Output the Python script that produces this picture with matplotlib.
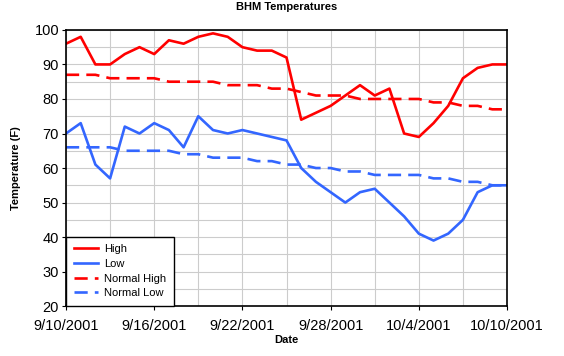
import numpy as np
import matplotlib.pyplot as plt
import matplotlib.dates as mdates
from matplotlib.ticker import MultipleLocator, FixedLocator
import datetime as dt

plt.rcParams['font.family'] = ['Liberation Sans', 'DejaVu Sans']

dates = [dt.date(2001, 9, 10) + dt.timedelta(days=i) for i in range(31)]

high = [96, 98, 90, 90, 93, 95, 93, 97, 96, 98, 99, 98, 95, 94, 94, 92,
        74, 76, 78, 81, 84, 81, 83, 70, 69, 73, 78, 86, 89, 90, 90]
low = [70, 73, 61, 57, 72, 70, 73, 71, 66, 75, 71, 70, 71, 70, 69, 68,
       60, 56, 53, 50, 53, 54, 50, 46, 41, 39, 41, 45, 53, 55, 55]
normal_high = [87, 87, 87, 86, 86, 86, 86, 85, 85, 85, 85, 84, 84, 84, 83, 83,
               82, 81, 81, 81, 80, 80, 80, 80, 80, 79, 79, 78, 78, 77, 77]
normal_low = [66, 66, 66, 66, 65, 65, 65, 65, 64, 64, 63, 63, 63, 62, 62, 61,
              61, 60, 60, 59, 59, 58, 58, 58, 58, 57, 57, 56, 56, 55, 55]

red = '#ff0000'
blue = '#3366ff'

fig = plt.figure(figsize=(5.64, 3.56), dpi=100)
ax = fig.add_axes([0.117, 0.140, 0.782, 0.776])

ax.plot(dates, high, color=red, lw=1.9, label='High')
ax.plot(dates, low, color=blue, lw=1.9, label='Low')
ax.plot(dates, normal_high, color=red, lw=1.9, ls=(0, (5, 2.7)), label='Normal High')
ax.plot(dates, normal_low, color=blue, lw=1.9, ls=(0, (5, 2.7)), label='Normal Low')

ax.set_xlim(dates[0], dates[-1])
ax.set_ylim(20, 100)
ax.xaxis.set_major_locator(FixedLocator(mdates.date2num(dates[::6])))
ax.xaxis.set_minor_locator(FixedLocator(mdates.date2num(dates[::3])))
ax.xaxis.set_major_formatter(
    plt.FuncFormatter(lambda v, p: '{d.month}/{d.day}/{d.year}'.format(d=mdates.num2date(v))))
ax.yaxis.set_major_locator(MultipleLocator(10))
ax.yaxis.set_minor_locator(MultipleLocator(5))

ax.grid(True, which='both', color='#cccccc', lw=0.8)
ax.set_axisbelow(True)
ax.tick_params(which='major', labelsize=10.5, length=3, color='black', pad=2)
ax.tick_params(axis='x', which='major', pad=6)
ax.tick_params(which='minor', length=0)
for s in ax.spines.values():
    s.set_linewidth(1.2)

ax.set_title('BHM Temperatures', fontsize=8, fontweight='bold', pad=14)
ax.set_xlabel('Date', fontsize=8, fontweight='bold', labelpad=2)
ax.set_ylabel('Temperature (F)', fontsize=8, fontweight='bold', labelpad=10)

leg = ax.legend(loc='lower left', fontsize=8, frameon=True, fancybox=False,
                borderaxespad=0, handlelength=2.2, labelspacing=0.42,
                handletextpad=0.5, borderpad=0.7)
leg.get_frame().set_edgecolor('black')
leg.get_frame().set_linewidth(1.0)
leg.get_frame().set_alpha(1)

fig.savefig('out.png', dpi=100)
